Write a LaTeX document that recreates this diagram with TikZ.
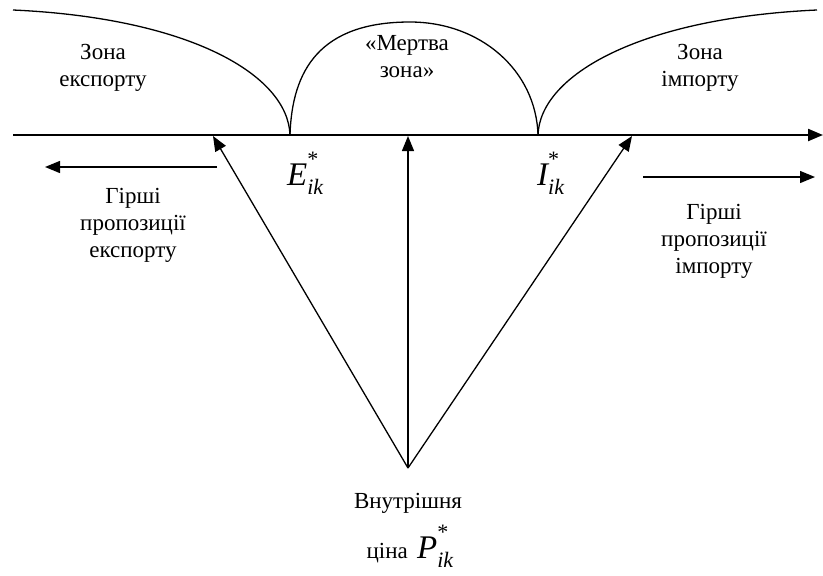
\documentclass[tikz,border=0pt]{standalone}
\usepackage{fontspec}
\setmainfont{Liberation Serif}
\newfontfamily\tnr{Liberation Serif}
\usetikzlibrary{arrows.meta}
\tikzset{
  lbl/.style={align=center, inner sep=0pt, font=\tnr\fontsize{23}{27}\selectfont},
  thin/.style={line width=1.3pt},
  axisline/.style={line width=2.2pt, -{Triangle[length=15pt,width=12pt]}},
  arr/.style={line width=1.3pt, -{Triangle[length=15pt,width=12pt]}},
  mlbl/.style={inner sep=0pt, font=\tnr\fontsize{33}{36}\selectfont\itshape}
}
\newcommand{\subsup}[2]{\rlap{\raisebox{0.55em}{\fontsize{22}{22}\selectfont\upshape #2}}\raisebox{-0.3em}{\fontsize{22}{22}\selectfont #1}}
\begin{document}
\begin{tikzpicture}[x=1pt,y=-1pt]
\useasboundingbox (0,0) rectangle (823,576);
% coordinates
\coordinate (axL) at (13,135);
\coordinate (axR) at (823,135);
\coordinate (src) at (408,468);
\coordinate (tL) at (213,136);
\coordinate (tM) at (408,136);
\coordinate (tR) at (632,136);
\coordinate (eL) at (290,135);
\coordinate (iR) at (538,135);
\coordinate (cL) at (13,10);
\coordinate (cR) at (817,10);
\coordinate (top) at (410,22);
\coordinate (la1) at (217,167);
\coordinate (la2) at (45,167);
\coordinate (ra1) at (643,177);
\coordinate (ra2) at (815,177);
% axis
\draw[axisline] (axL) -- (axR);
% curves
\draw[thin] (cL) .. controls (190,18) and (288,75) .. (eL);
\draw[thin] (eL) .. controls (292,70) and (320,22) .. (top) .. controls (480,22) and (536,70) .. (iR);
\draw[thin] (iR) .. controls (540,75) and (640,18) .. (cR);
% arrows from price
\draw[arr] (src) -- (tL);
\draw[arr] (src) -- (tM);
\draw[arr] (src) -- (tR);
% side arrows
\draw[arr] (la1) -- (la2);
\draw[arr] (ra1) -- (ra2);
% labels
\node[lbl] (zexp) at (103,68) {Зона\\експорту};
\node[lbl] (zdead) at (407,57) {«Мертва\\зона»};
\node[lbl] (zimp) at (700,68) {Зона\\імпорту};
\node[lbl] (wexp) at (133,225) {Гірші\\пропозиції\\експорту};
\node[lbl] (wimp) at (714,241) {Гірші\\пропозиції\\імпорту};
\node[lbl] (vn) at (408,503) {Внутрішня};
\node[lbl, anchor=base east] (tsina) at (408,558) {ціна};
\node[mlbl, anchor=base west] (P) at (417,558) {P\subsup{ik}{*}};
\node[mlbl, anchor=base west] (E) at (287,185) {E\subsup{ik}{*}};
\node[mlbl, anchor=base west] (I) at (537,185) {I\subsup{ik}{*}};
\end{tikzpicture}
\end{document}
